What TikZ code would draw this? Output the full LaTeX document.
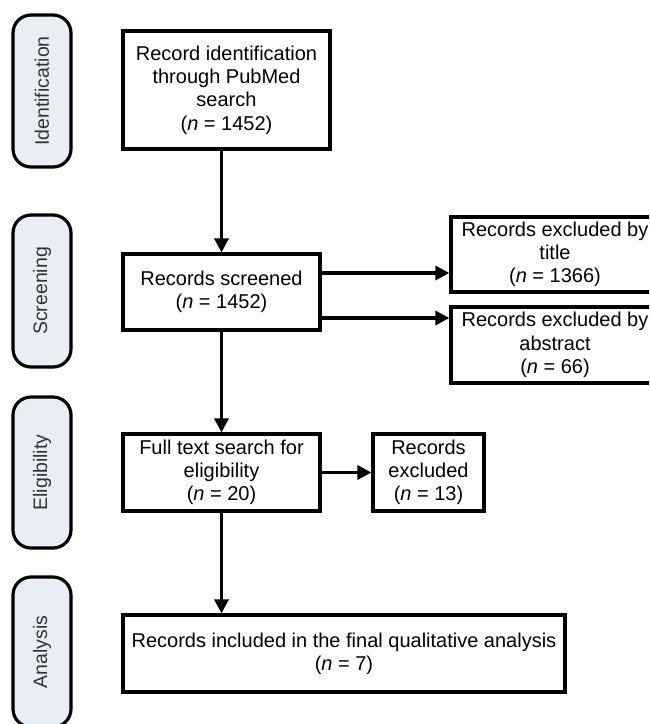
\documentclass[tikz,border=0pt]{standalone}
\usepackage{fontspec}
\setmainfont{Liberation Sans}
\usetikzlibrary{arrows.meta}
\definecolor{pillfill}{HTML}{E9EDF5}
\definecolor{pilltext}{HTML}{333333}
\begin{document}
\begin{tikzpicture}[x=1pt,y=-1pt,
  box/.style={draw=black, line width=3.2pt, fill=white, inner sep=0pt, align=center,
    font=\fontsize{20}{23.3}\selectfont},
  pill/.style={draw=black, line width=3.2pt, fill=pillfill, rounded corners=18pt, rotate=90,
    minimum height=58pt, inner sep=0pt, text=pilltext, font=\fontsize{19.5}{22}\selectfont},
  arr/.style={line width=3.2pt, -{Triangle[length=14pt,width=14pt]}}]
\clip (0,0) rectangle (649,724);
\fill[white] (0,0) rectangle (649,724);
% phase labels
\node[pill, minimum width=152pt] (pid) at (42,91) {Identification};
\node[pill, minimum width=152pt] (pscr) at (42,291) {Screening};
\node[pill, minimum width=151pt] (pel) at (42,472.5) {Eligibility};
\node[pill, minimum width=150pt] (pan) at (42,652) {Analysis};
% boxes
\node[box, minimum width=207pt, minimum height=118pt] (b1) at (226.5,90)
  {Record identification\\through PubMed\\search\\(\textit{n} = 1452)};
\node[box, minimum width=197pt, minimum height=76pt] (scr) at (221.5,292)
  {Records screened\\(\textit{n} = 1452)};
\node[box, minimum width=208pt, minimum height=75pt] (title) at (555,254.5)
  {Records excluded by\\title\\(\textit{n} = 1366)};
\node[box, minimum width=208pt, minimum height=76pt] (abs) at (555,345)
  {Records excluded by\\abstract\\(\textit{n} = 66)};
\node[box, minimum width=197pt, minimum height=77pt] (ft) at (221.5,472.5)
  {Full text search for\\eligibility\\(\textit{n} = 20)};
\node[box, minimum width=111pt, minimum height=77pt] (ex) at (428.5,472.5)
  {Records\\excluded\\(\textit{n} = 13)};
\node[box, minimum width=442pt, minimum height=77pt] (fin) at (344,653.5)
  {Records included in the final qualitative analysis\\(\textit{n} = 7)};
% connectors
\coordinate (ytitle) at (0,273);
\coordinate (yabs) at (0,318);
\draw[arr] (b1.south -| scr.north) -- (scr.north);
\draw[arr] (scr.east |- ytitle) -- (title.west |- ytitle);
\draw[arr] (scr.east |- yabs) -- (abs.west |- yabs);
\draw[arr] (scr.south) -- (ft.north);
\draw[arr] (ft.east) -- (ex.west);
\draw[arr] (ft.south) -- (fin.north -| ft.south);
\end{tikzpicture}
\end{document}
